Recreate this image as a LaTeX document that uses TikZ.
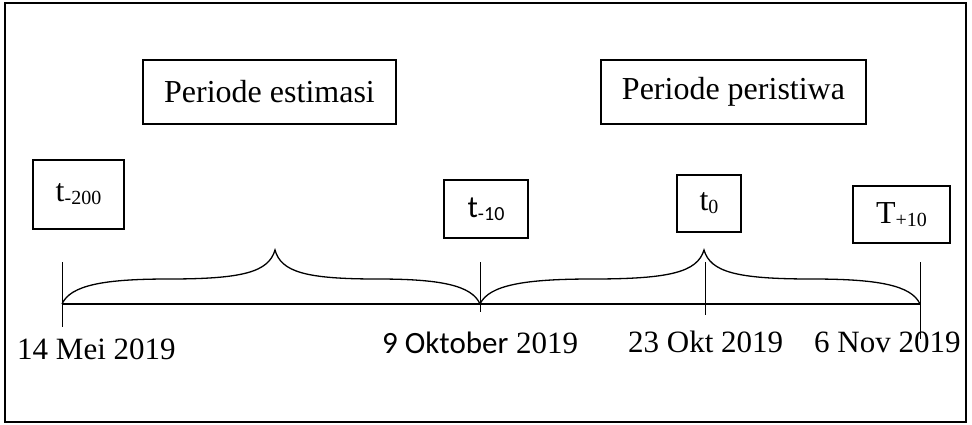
\documentclass[tikz,border=0pt]{standalone}
\usepackage{fontspec}
\setmainfont{Liberation Serif}
\newfontfamily\calibri{Carlito}
\usepackage{tikz}

\tikzset{
  kotak/.style={draw, line width=1.2pt, inner sep=0pt, font=\fontsize{32}{36}\selectfont},
  tanggal/.style={anchor=base west, inner sep=0pt, font=\fontsize{31}{36}\selectfont},
  kurungline/.style={line width=1.3pt},
  tick/.style={line width=1pt}
}
\newcommand{\sub}[1]{\raisebox{-3pt}{\fontsize{20}{20}\selectfont #1}}
\newcommand{\kurung}[3]{%
  \draw[kurungline] (#1,304)
    .. controls ({#1+0.04*(#2-#1)},285) and ({#1+0.2*(#2-#1)},279) .. ({#1+0.5*(#2-#1)},279)
    .. controls ({#2-0.15*(#2-#1)},279) and ({#2-0.03*(#2-#1)},272) .. (#2,250)
    .. controls ({#2+0.03*(#3-#2)},272) and ({#2+0.15*(#3-#2)},279) .. ({#2+0.5*(#3-#2)},279)
    .. controls ({#3-0.2*(#3-#2)},279) and ({#3-0.04*(#3-#2)},285) .. (#3,304);}

\begin{document}
\begin{tikzpicture}[x=1pt, y=-1pt]
    \useasboundingbox (0,0) rectangle (972,424);
    \draw[line width=1.5pt] (5,3) rectangle (966,422);

    \node[kotak, minimum width=253pt, minimum height=64pt] (estimasi) at (269.5,92) {Periode estimasi};
    \node[kotak, minimum width=265pt, minimum height=64pt] (peristiwa) at (733.5,92) {Periode peristiwa};
    \node[kotak, minimum width=91pt, minimum height=69pt] (t200) at (78.5,194.5) {t\sub{-200}};
    \node[kotak, minimum width=84pt, minimum height=58pt, font=\calibri\fontsize{31}{36}\selectfont] (t10) at (486,209) {t\sub{-10}};
    \node[kotak, minimum width=64pt, minimum height=57pt] (t0) at (709,203.5) {t\sub{0}};
    \node[kotak, minimum width=97pt, minimum height=57pt] (T10) at (901.5,214.5) {T\sub{+10}};

    \coordinate (awal) at (62,304);
    \coordinate (okt9) at (480,304);
    \coordinate (okt23) at (705,304);
    \coordinate (nov6) at (920,304);

    \draw[line width=2.2pt] (awal) -- (nov6);
    \draw[tick] (awal) ++(0,-42) -- ++(0,65);
    \draw[tick] (okt9) ++(0,-42) -- ++(0,50);
    \draw[tick] (okt23) ++(0,-42) -- ++(0,53);
    \draw[tick] (nov6) ++(0,-42) -- ++(0,77);

    \kurung{62}{275}{480}
    \kurung{480}{704}{920}

    \node[tanggal] (tgl1) at (17,359) {14 Mei 2019};
    \node[tanggal] (tgl2) at (382,353) {{\calibri 9 Oktober} 2019};
    \node[tanggal] (tgl3) at (628,352) {23 Okt 2019};
    \node[tanggal] (tgl4) at (814,352) {6 Nov 2019};
\end{tikzpicture}
\end{document}
